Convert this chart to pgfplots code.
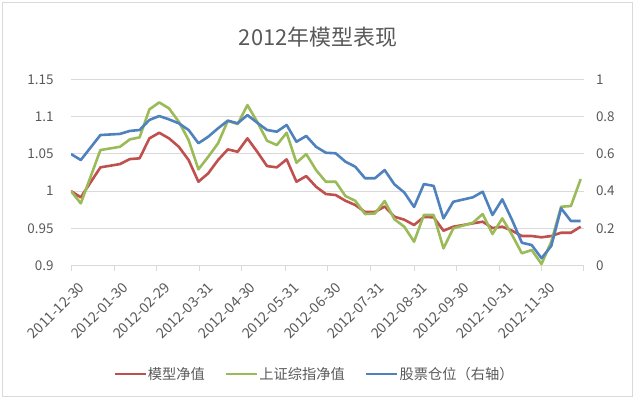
\documentclass[border=0pt]{standalone}
\usepackage{fontspec}
\setmainfont{Noto Sans CJK SC}
\usepackage{pgfplots}
\usepackage{pgfplotstable}
\pgfplotsset{compat=1.18}
\definecolor{cRed}{HTML}{C0504D}
\definecolor{cGreen}{HTML}{9BBB59}
\definecolor{cBlue}{HTML}{4F81BD}
\definecolor{cGrid}{HTML}{D9D9D9}
\definecolor{cText}{HTML}{595959}

\pgfplotstableread{
day red green blue
0   1.0000 1.0000 0.599
7   0.9917 0.9836 0.567
14  1.0118 1.0193 0.634
21  1.0319 1.0551 0.701
35  1.0363 1.0595 0.707
42  1.0430 1.0694 0.723
49  1.0440 1.0721 0.728
56  1.0708 1.1097 0.782
63  1.0783 1.1190 0.803
70  1.0708 1.1110 0.785
77  1.0595 1.0930 0.764
84  1.0417 1.0685 0.728
91  1.0126 1.0292 0.657
98  1.0239 1.0461 0.692
105 1.0417 1.0641 0.737
112 1.0560 1.0944 0.778
119 1.0528 1.0900 0.764
126 1.0708 1.1154 0.808
133 1.0528 1.0930 0.767
140 1.0336 1.0676 0.728
147 1.0319 1.0618 0.719
154 1.0426 1.0783 0.755
161 1.0126 1.0381 0.665
168 1.0202 1.0497 0.696
175 1.0059 1.0283 0.638
182 0.9961 1.0126 0.606
189 0.9948 1.0126 0.603
196 0.9871 0.9934 0.558
203 0.9814 0.9871 0.531
210 0.9720 0.9693 0.469
217 0.9720 0.9700 0.469
224 0.9794 0.9867 0.513
231 0.9657 0.9622 0.436
238 0.9617 0.9523 0.393
245 0.9546 0.9322 0.315
252 0.9653 0.9680 0.438
259 0.9649 0.9680 0.428
266 0.9469 0.9233 0.254
273 0.9523 0.9501 0.343
287 0.9568 0.9576 0.367
294 0.9590 0.9693 0.397
301 0.9505 0.9425 0.272
308 0.9523 0.9635 0.356
315 0.9469 0.9412 0.245
322 0.9398 0.9166 0.123
329 0.9398 0.9210 0.111
336 0.9381 0.9023 0.040
343 0.9398 0.9322 0.106
350 0.9442 0.9791 0.308
357 0.9442 0.9800 0.240
364 0.9523 1.0162 0.240
}\data

\begin{document}
\begin{tikzpicture}
\pgfplotsset{
  common/.style={
    scale only axis, width=512.5bp, height=186.4bp,
    xmin=0, xmax=366,
    /pgf/number format/assume math mode=true,
    tick label style={font=\fontsize{13.5}{14}\selectfont, text=cText},
  }
}
\begin{axis}[
  common,
  name=ax,
  ymin=0.9, ymax=1.15,
  ytick={0.9,0.95,1,1.05,1.1,1.15},
  ymajorgrids, grid style={cGrid, line width=0.75bp},
  axis x line*=bottom, axis y line*=left,
  y axis line style={draw=none},
  x axis line style={cGrid, line width=0.75bp},
  ytick style={draw=none},
  xtick style={cGrid, line width=0.75bp},
  tick align=outside, major tick length=5bp,
  xtick={0,31,61,92,122,153,183,214,245,275,306,336,366},
  xticklabels={2011-12-30,2012-01-30,2012-02-29,2012-03-31,2012-04-30,2012-05-31,2012-06-30,2012-07-31,2012-08-31,2012-09-30,2012-10-31,2012-11-30,{}},
  xticklabel style={rotate=45, anchor=north east, font=\fontsize{14.2}{15}\selectfont, xshift=1bp, yshift=-9bp},
  yticklabel style={xshift=-9bp},
  title={2012年模型表现},
  title style={at={(0.482,1)}, anchor=center, yshift=36.3bp, font=\fontsize{22}{24}\selectfont, text=cText},
  legend style={at={(0.474,-0.581)}, anchor=center, draw=none, fill=none,
    legend columns=3, font=\fontsize{14.3}{16}\selectfont, text=cText,
    nodes={inner sep=1bp},
    /tikz/every even column/.append style={column sep=19bp}},
  legend image code/.code={\draw[#1, line width=2.6bp] (0bp,0bp) -- (31bp,0bp);},
]
\addplot[cRed, line width=2.6bp, line join=round, no markers] table[x=day, y=red]{\data};
\addlegendentry{模型净值}
\addplot[cGreen, line width=2.6bp, line join=round, no markers] table[x=day, y=green]{\data};
\addlegendentry{上证综指净值}
\addlegendimage{cBlue, line width=2.6bp}
\addlegendentry{股票仓位（右轴）}
\end{axis}
\begin{axis}[
  common,
  ymin=0, ymax=1,
  ytick={0,0.2,0.4,0.6,0.8,1},
  axis y line*=right, axis x line=none,
  y axis line style={draw=none},
  ytick style={draw=none},
  yticklabel style={xshift=9bp},
]
\addplot[cBlue, line width=2.6bp, line join=round, no markers] table[x=day, y=blue]{\data};
\end{axis}
\pgfresetboundingbox
\path[use as bounding box] ([shift={(-71bp,-133.3bp)}]ax.south west) rectangle ([shift={(564bp,265.7bp)}]ax.south west);
\draw[cGrid, line width=1bp] ([shift={(-68bp,-130.3bp)}]ax.south west) rectangle ([shift={(561bp,262.7bp)}]ax.south west);
\end{tikzpicture}
\end{document}
